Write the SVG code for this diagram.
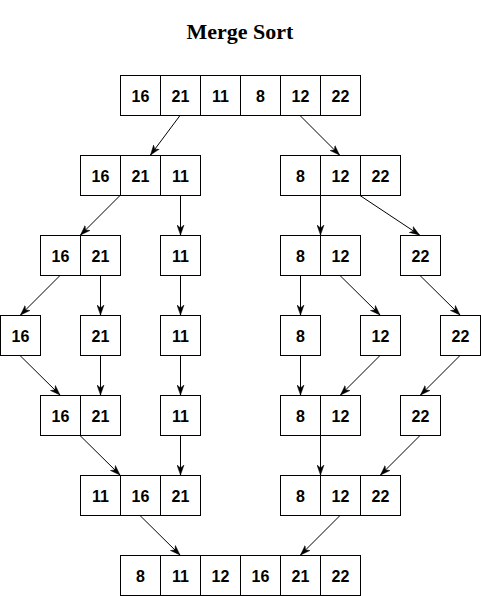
<svg xmlns="http://www.w3.org/2000/svg" width="481" height="596" viewBox="0 0 481 596">
<style>
.c{fill:#fff;stroke:#000;stroke-width:1}
.t{font-family:"Liberation Sans",Arial,sans-serif;font-weight:bold;font-size:16px;text-anchor:middle;fill:#000}
.title{font-family:"Liberation Serif","Times New Roman",serif;font-weight:bold;font-size:22px;text-anchor:middle;fill:#000}
.e{fill:none;stroke:#000;stroke-width:1;marker-end:url(#a)}
</style>
<defs>
<marker id="a" markerUnits="userSpaceOnUse" markerWidth="11" markerHeight="8" refX="10" refY="4" orient="auto">
<path d="M0,0.5 L10,4 L0,7.5 L3,4 Z" fill="#000" stroke="#000" stroke-width="0.5"/>
</marker>
</defs>
<rect width="481" height="596" fill="#fff"/>
<text class="title" x="240" y="39">Merge Sort</text>

<g id="connectors">
<line class="e" x1="180" y1="115.5" x2="150.5" y2="155"/>
<line class="e" x1="300" y1="115.5" x2="339.5" y2="155"/>
<line class="e" x1="120" y1="195.5" x2="80.5" y2="235"/>
<line class="e" x1="180.5" y1="195.5" x2="180.5" y2="235"/>
<line class="e" x1="320.5" y1="195.5" x2="320.5" y2="235"/>
<line class="e" x1="360" y1="195.5" x2="419.5" y2="235"/>
<line class="e" x1="60" y1="275.5" x2="20.5" y2="315"/>
<line class="e" x1="100.5" y1="275.5" x2="100.5" y2="315"/>
<line class="e" x1="180.5" y1="275.5" x2="180.5" y2="315"/>
<line class="e" x1="300.5" y1="275.5" x2="300.5" y2="315"/>
<line class="e" x1="340" y1="275.5" x2="380" y2="315"/>
<line class="e" x1="420" y1="275.5" x2="460" y2="315"/>
<line class="e" x1="20" y1="355.5" x2="60" y2="395"/>
<line class="e" x1="100.5" y1="355.5" x2="100.5" y2="395"/>
<line class="e" x1="180.5" y1="355.5" x2="180.5" y2="395"/>
<line class="e" x1="300.5" y1="355.5" x2="300.5" y2="395"/>
<line class="e" x1="380" y1="355.5" x2="340.5" y2="395"/>
<line class="e" x1="460" y1="355.5" x2="420.5" y2="395"/>
<line class="e" x1="80" y1="435.5" x2="120" y2="475"/>
<line class="e" x1="180.5" y1="435.5" x2="180.5" y2="475"/>
<line class="e" x1="320.5" y1="435.5" x2="320.5" y2="475"/>
<line class="e" x1="420" y1="435.5" x2="380.5" y2="475"/>
<line class="e" x1="140" y1="515.5" x2="180" y2="555"/>
<line class="e" x1="340" y1="515.5" x2="300.5" y2="555"/>
</g>

<g id="n1">
<rect class="c" x="120.5" y="75.5" width="40" height="40"/><text class="t" x="140.5" y="101.5">16</text>
<rect class="c" x="160.5" y="75.5" width="40" height="40"/><text class="t" x="180.5" y="101.5">21</text>
<rect class="c" x="200.5" y="75.5" width="40" height="40"/><text class="t" x="220.5" y="101.5">11</text>
<rect class="c" x="240.5" y="75.5" width="40" height="40"/><text class="t" x="260.5" y="101.5">8</text>
<rect class="c" x="280.5" y="75.5" width="40" height="40"/><text class="t" x="300.5" y="101.5">12</text>
<rect class="c" x="320.5" y="75.5" width="40" height="40"/><text class="t" x="340.5" y="101.5">22</text>
</g>

<g id="n2a">
<rect class="c" x="80.5" y="155.5" width="40" height="40"/><text class="t" x="100.5" y="181.5">16</text>
<rect class="c" x="120.5" y="155.5" width="40" height="40"/><text class="t" x="140.5" y="181.5">21</text>
<rect class="c" x="160.5" y="155.5" width="40" height="40"/><text class="t" x="180.5" y="181.5">11</text>
</g>
<g id="n2b">
<rect class="c" x="280.5" y="155.5" width="40" height="40"/><text class="t" x="300.5" y="181.5">8</text>
<rect class="c" x="320.5" y="155.5" width="40" height="40"/><text class="t" x="340.5" y="181.5">12</text>
<rect class="c" x="360.5" y="155.5" width="40" height="40"/><text class="t" x="380.5" y="181.5">22</text>
</g>

<g id="n3a">
<rect class="c" x="40.5" y="235.5" width="40" height="40"/><text class="t" x="60.5" y="261.5">16</text>
<rect class="c" x="80.5" y="235.5" width="40" height="40"/><text class="t" x="100.5" y="261.5">21</text>
</g>
<g id="n3b">
<rect class="c" x="160.5" y="235.5" width="40" height="40"/><text class="t" x="180.5" y="261.5">11</text>
</g>
<g id="n3c">
<rect class="c" x="280.5" y="235.5" width="40" height="40"/><text class="t" x="300.5" y="261.5">8</text>
<rect class="c" x="320.5" y="235.5" width="40" height="40"/><text class="t" x="340.5" y="261.5">12</text>
</g>
<g id="n3d">
<rect class="c" x="400.5" y="235.5" width="40" height="40"/><text class="t" x="420.5" y="261.5">22</text>
</g>

<g id="n4a"><rect class="c" x="0.5" y="315.5" width="40" height="40"/><text class="t" x="20.5" y="341.5">16</text></g>
<g id="n4b"><rect class="c" x="80.5" y="315.5" width="40" height="40"/><text class="t" x="100.5" y="341.5">21</text></g>
<g id="n4c"><rect class="c" x="160.5" y="315.5" width="40" height="40"/><text class="t" x="180.5" y="341.5">11</text></g>
<g id="n4d"><rect class="c" x="280.5" y="315.5" width="40" height="40"/><text class="t" x="300.5" y="341.5">8</text></g>
<g id="n4e"><rect class="c" x="360.5" y="315.5" width="40" height="40"/><text class="t" x="380.5" y="341.5">12</text></g>
<g id="n4f"><rect class="c" x="440.5" y="315.5" width="40" height="40"/><text class="t" x="460.5" y="341.5">22</text></g>

<g id="n5a">
<rect class="c" x="40.5" y="395.5" width="40" height="40"/><text class="t" x="60.5" y="421.5">16</text>
<rect class="c" x="80.5" y="395.5" width="40" height="40"/><text class="t" x="100.5" y="421.5">21</text>
</g>
<g id="n5b">
<rect class="c" x="160.5" y="395.5" width="40" height="40"/><text class="t" x="180.5" y="421.5">11</text>
</g>
<g id="n5c">
<rect class="c" x="280.5" y="395.5" width="40" height="40"/><text class="t" x="300.5" y="421.5">8</text>
<rect class="c" x="320.5" y="395.5" width="40" height="40"/><text class="t" x="340.5" y="421.5">12</text>
</g>
<g id="n5d">
<rect class="c" x="400.5" y="395.5" width="40" height="40"/><text class="t" x="420.5" y="421.5">22</text>
</g>

<g id="n6a">
<rect class="c" x="80.5" y="475.5" width="40" height="40"/><text class="t" x="100.5" y="501.5">11</text>
<rect class="c" x="120.5" y="475.5" width="40" height="40"/><text class="t" x="140.5" y="501.5">16</text>
<rect class="c" x="160.5" y="475.5" width="40" height="40"/><text class="t" x="180.5" y="501.5">21</text>
</g>
<g id="n6b">
<rect class="c" x="280.5" y="475.5" width="40" height="40"/><text class="t" x="300.5" y="501.5">8</text>
<rect class="c" x="320.5" y="475.5" width="40" height="40"/><text class="t" x="340.5" y="501.5">12</text>
<rect class="c" x="360.5" y="475.5" width="40" height="40"/><text class="t" x="380.5" y="501.5">22</text>
</g>

<g id="n7">
<rect class="c" x="120.5" y="555.5" width="40" height="40"/><text class="t" x="140.5" y="581.5">8</text>
<rect class="c" x="160.5" y="555.5" width="40" height="40"/><text class="t" x="180.5" y="581.5">11</text>
<rect class="c" x="200.5" y="555.5" width="40" height="40"/><text class="t" x="220.5" y="581.5">12</text>
<rect class="c" x="240.5" y="555.5" width="40" height="40"/><text class="t" x="260.5" y="581.5">16</text>
<rect class="c" x="280.5" y="555.5" width="40" height="40"/><text class="t" x="300.5" y="581.5">21</text>
<rect class="c" x="320.5" y="555.5" width="40" height="40"/><text class="t" x="340.5" y="581.5">22</text>
</g>
</svg>
